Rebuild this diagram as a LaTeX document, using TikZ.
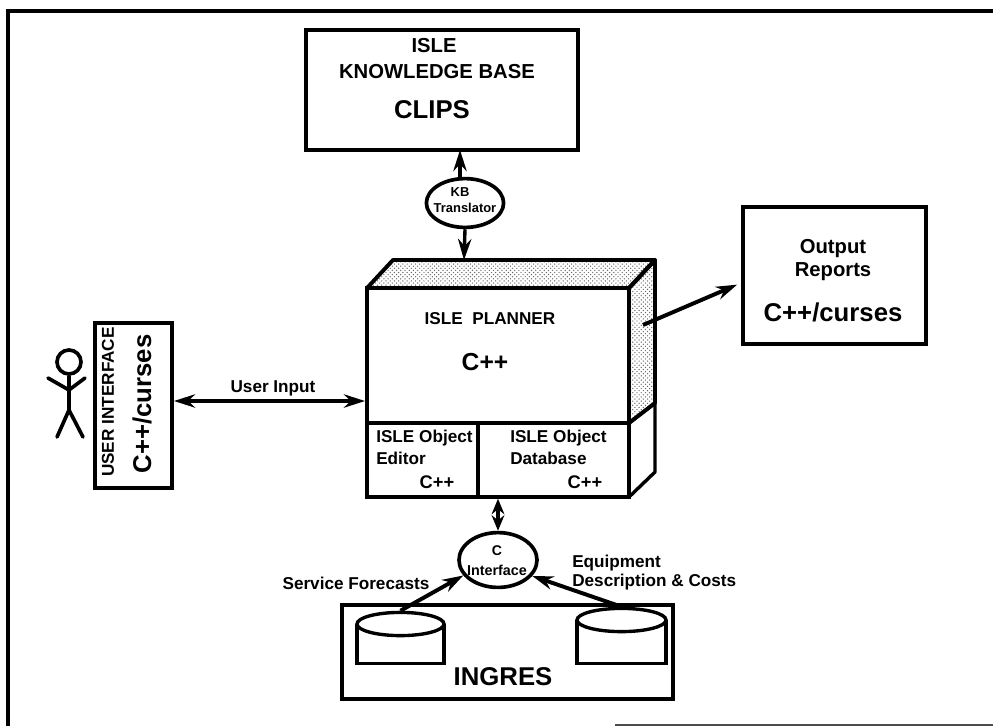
\documentclass[tikz,border=0pt]{standalone}
\usepackage{fontspec}
\setmainfont{Liberation Sans}
\usetikzlibrary{arrows.meta, patterns, shapes.geometric}

\begin{document}
\begin{tikzpicture}[
    x=0.025cm, y=-0.025cm,
    >={Stealth[length=15pt,width=9.5pt]},
    box/.style={draw, line width=2.8pt, inner sep=0pt, fill=white},
    thinbox/.style={draw, line width=2.4pt, inner sep=0pt, fill=white},
    oval/.style={draw, ellipse, line width=2.6pt, inner sep=0pt, fill=white},
    link/.style={line width=2.4pt},
    lbl/.style={font=\bfseries\fontsize{12.2}{14}\selectfont, inner sep=0pt},
    head/.style={font=\bfseries\fontsize{14.4}{17}\selectfont, inner sep=0pt},
    big/.style={font=\bfseries\fontsize{18.3}{22}\selectfont, inner sep=0pt},
    tiny/.style={font=\bfseries\fontsize{9.2}{11}\selectfont, inner sep=0pt},
    shaded/.style={pattern=crosshatch dots, pattern color=black!60},
]
\useasboundingbox (0,0) rectangle (993,726);
% === Page frame ===
\draw[line width=3pt] (993,11) -- (8,11) -- (8,726);
\draw[line width=1pt, black!70] (615,725) -- (993,725);
% === Knowledge base ===
\node[box, minimum width=6.8cm, minimum height=3cm] (kb) at (442,90) {};
\node[head] (kbisle) at (434,46) {ISLE};
\node[head] (kbname) at (437,72) {KNOWLEDGE BASE};
\node[big] (clips) at (432,110) {CLIPS};
% === Planner block ===
\draw[line width=2.8pt, shaded, line join=round] (367,288) -- (393,260) -- (655,260) -- (629,288) -- cycle;
\draw[line width=2.8pt, shaded, line join=round] (629,288) -- (655,260) -- (655,403) -- (629,423) -- cycle;
\draw[line width=2.4pt, line join=round] (629,423) -- (655,403) -- (655,472) -- (629,497) -- cycle;
\node[box, minimum width=6.55cm, minimum height=3.375cm] (planner) at (498,355.5) {};
\node[thinbox, minimum width=2.775cm, minimum height=1.85cm] (editor) at (422.5,460) {};
\node[thinbox, minimum width=3.775cm, minimum height=1.85cm] (dbase) at (553.5,460) {};
\coordinate (plannertop) at (464,260);
\coordinate (plannerside) at (643,325);
\node[lbl] (plannername) at (490,319) {ISLE\ \ PLANNER};
\node[inner sep=0pt, font=\bfseries\fontsize{17.5}{21}\selectfont] (plannerlang) at (485,362) {C++};
\node[lbl, anchor=west] (editorisle) at (376,438) {ISLE Object};
\node[lbl, anchor=west] (editorname) at (376,458) {Editor};
\node[lbl, font=\bfseries\fontsize{13}{15}\selectfont] (editorlang) at (437,482) {C++};
\node[lbl, anchor=west] (dbaseisle) at (510,438) {ISLE Object};
\node[lbl, anchor=west] (dbasename) at (510,458) {Database};
\node[lbl, font=\bfseries\fontsize{13}{15}\selectfont] (dbaselang) at (585,482) {C++};
% === KB translator ===
\node[oval, minimum width=1.93cm, minimum height=1.22cm] (trans) at (465,203) {};
\node[tiny] (transkb) at (460,192) {KB};
\node[tiny] (transname) at (465,208) {Translator};
\draw[->, link] (trans.north -| 460,0) -- (460,150);
\draw[->, link] (trans.south) -- (plannertop);
% === Output reports ===
\node[box, minimum width=4.575cm, minimum height=3.425cm] (output) at (834.5,275.5) {};
\node[head] (outputa) at (833,249) {Output};
\node[head] (outputb) at (833,272) {Reports};
\node[big] (outputlang) at (833,312) {C++/curses};
\draw[->, line width=2.8pt, shorten >=3pt] (plannerside) -- (output.west |- 0,283);
% === User interface ===
\node[box, minimum width=1.925cm, minimum height=4.125cm] (user) at (133.5,405.5) {};
\node[lbl, rotate=90] (username) at (108,402) {USER INTERFACE};
\node[big, rotate=90] (userlang) at (142,404) {C++/curses};
\draw[<->, link] (user.east |- 0,401) -- (planner.west |- 0,401);
\node[lbl] (userinput) at (273,388) {User Input};
% Stick figure
\node[draw, circle, line width=2.6pt, minimum size=0.6cm, inner sep=0pt] (figure) at (69,362) {};
\draw[line width=2.6pt, line cap=round] (figure.south) -- (69,410) -- (57,437);
\draw[line width=2.6pt, line cap=round] (69,410) -- (83,437);
\draw[line width=2.6pt, line cap=round] (48,378) -- (69,390) -- (85,378);
% === Ingres store ===
\node[thinbox, minimum width=8.275cm, minimum height=2.35cm] (ingres) at (507.5,652) {};
\node[big] (ingresname) at (503,677) {INGRES};
\foreach \name/\x/\y/\w in {tablea/400.5/624/87, tableb/621.5/620/89} {
    \node[thinbox, minimum width=\w*0.025cm, minimum height=(662-\y)*0.025cm, anchor=north] (\name) at (\x,\y) {};
    \node[oval, line width=2.4pt, minimum width=\w*0.025cm, minimum height=0.58cm] (\name top) at (\x,\y) {};
}
% === C interface ===
\node[oval, minimum width=1.95cm, minimum height=1.37cm] (cint) at (498,560) {};
\node[lbl, font=\bfseries\fontsize{10}{12}\selectfont] (cintc) at (497,551) {C};
\node[tiny, font=\bfseries\fontsize{10.2}{12}\selectfont] (cintname) at (497,570) {Interface};
\draw[{Stealth[length=11pt,width=9pt]}-{Stealth[length=11pt,width=9pt]}, link] (cint.north) -- (cint.north |- dbase.south);
\draw[->, line width=2.8pt] (tableatop.north) -- (cint.204);
\draw[->, line width=2.8pt] (tablebtop.north) -- (cint.335);
\node[lbl] (forecast) at (356,583) {Service Forecasts};
\node[lbl, anchor=west] (equipa) at (572,563) {Equipment};
\node[lbl, anchor=west] (equipb) at (572,582) {Description \& Costs};
\end{tikzpicture}
\end{document}
